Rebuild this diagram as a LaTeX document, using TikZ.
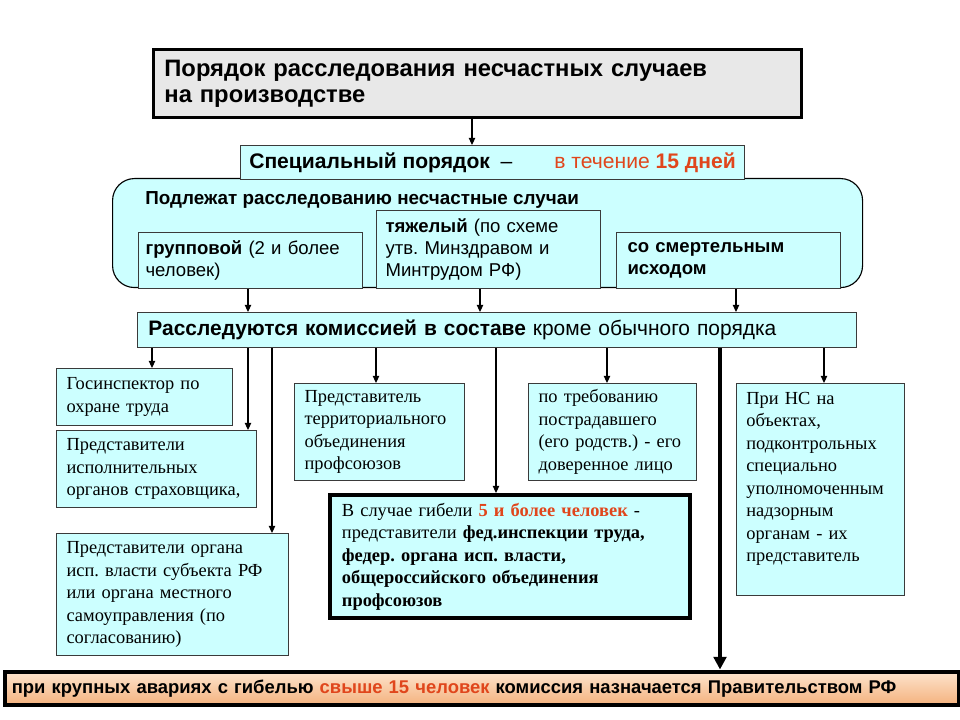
\documentclass[tikz,border=0pt]{standalone}
\usepackage{fontspec}
\setmainfont{Liberation Serif}
\setsansfont{Liberation Sans}
\usepackage{tikz}
\usetikzlibrary{arrows.meta,positioning,calc}
\definecolor{paleCyan}{HTML}{CCFFFF}
\definecolor{boxline}{HTML}{3A3A3A}
\definecolor{titlegray}{HTML}{E8E8E8}
\definecolor{alarm}{HTML}{E0461C}
\definecolor{barTop}{HTML}{FDE3CC}
\definecolor{barBot}{HTML}{F4B27E}
\newcommand{\pu}{0.025cm}
\frenchspacing

\begin{document}
\begin{tikzpicture}[x=\pu,y=-\pu,>={Triangle[width=4.5pt,length=5pt]},
  cbox/.style={draw=boxline,fill=paleCyan,line width=.8pt,anchor=north west,inner sep=0pt,align=left},
  sz/.style 2 args={minimum width=#1*\pu,minimum height=#2*\pu},
  arial/.style={font=\sffamily\fontsize{13.2}{15.6}\selectfont},
  times/.style={font=\rmfamily\fontsize{13.1}{16}\selectfont},
  link/.style={->,line width=.8pt}]
\useasboundingbox (0,0) rectangle (960,720);
% header and the special order
\node[draw=black,fill=titlegray,line width=2.1pt,anchor=north west,inner sep=0pt,sz={648}{68},
  text width=15.65cm,align=left,font=\sffamily\bfseries\fontsize{16.9}{18.5}\selectfont]
  (title) at (152,48) {Порядок расследования несчастных случаев\\на производстве};
\node[draw=black,fill=paleCyan,line width=.8pt,rounded corners=15.6pt,anchor=north west,sz={750}{109}]
  (podl) at (112,178) {};
\node[cbox,sz={504}{34},align=center,font=\sffamily\fontsize{15}{17}\selectfont]
  (special) at (240,145) {\textbf{Специальный порядок}\enspace–\qquad{\color{alarm}в течение \textbf{15 дней}}};
\node[anchor=west,inner sep=0pt,font=\sffamily\bfseries\fontsize{13.4}{15}\selectfont]
  (podlhead) at (145,200) {Подлежат расследованию несчастные случаи};
\node[cbox,arial,sz={224}{56},text width=5.25cm] (grp) at (138,232) {\textbf{групповой} (2 и более\\человек)};
\node[cbox,arial,sz={224}{78},text width=5.15cm] (tyazh) at (376,210) {\textbf{тяжелый} (по схеме\\утв. Минздравом и\\Минтрудом РФ)};
\node[cbox,arial,sz={224}{56},text width=5.05cm,font=\sffamily\bfseries\fontsize{13.2}{15.6}\selectfont]
  (smert) at (616,232) {со смертельным\\исходом};
\node[cbox,sz={719}{35},text width=17.425cm,font=\sffamily\fontsize{14.9}{17}\selectfont]
  (rassl) at (137,312) {\textbf{Расследуются комиссией в составе} кроме обычного порядка};
% commission members
\node[cbox,times,sz={176}{57},text width=3.9cm] (gos) at (56,368) {Госинспектор по\\охране труда};
\node[cbox,times,sz={200}{77},text width=4.5cm] (strah) at (56,430) {Представители\\исполнительных\\органов страховщика,};
\node[cbox,times,sz={232}{122},text width=5.3cm] (subj) at (56,533)
  {Представители органа\\исп. власти субъекта РФ\\или органа местного\\самоуправления (по\\согласованию)};
\node[cbox,times,sz={170}{97},text width=3.75cm] (terr) at (294,383) {Представитель\\территориального\\объединения\\профсоюзов};
\node[cbox,times,sz={168}{97},text width=3.7cm] (treb) at (528,383) {по требованию\\пострадавшего\\(его родств.) - его\\доверенное лицо};
\node[cbox,times,sz={360}{123},text width=8.4cm,draw=black,line width=2.8pt] (gib) at (328,493)
  {В случае гибели \textbf{\color{alarm}5 и более человек} -\\представители \textbf{фед.инспекции труда,}\\
   \textbf{федер. органа исп. власти,}\\\textbf{общероссийского объединения}\\\textbf{профсоюзов}};
\node[cbox,sz={168}{212}] (ns) at (736,383) {};
\node[times,anchor=north west,inner sep=0pt,text width=3.7cm,align=left] (nstext) at ($(ns.north west)+(10,9)$)
  {При НС на\\объектах,\\подконтрольных\\специально\\уполномоченным\\надзорным\\органам - их\\представитель};
\node[draw=black,line width=3.5pt,top color=barTop,bottom color=barBot,anchor=north west,inner sep=0pt,
  sz={954}{33},text width=23.5cm,align=left,font=\sffamily\bfseries\fontsize{13.1}{15}\selectfont]
  (bar) at (2.5,669.5) {при крупных авариях с гибелью {\color{alarm}свыше 15 человек} комиссия назначается Правительством РФ};
% connectors
\draw[link] (472,0 |- title.south) -- (472,0 |- special.north);
\draw[link] (248,0 |- grp.south) -- (248,0 |- rassl.north);
\draw[link] (480,0 |- tyazh.south) -- (480,0 |- rassl.north);
\draw[link] (736,0 |- smert.south) -- (736,0 |- rassl.north);
\draw[link] (152,0 |- rassl.south) -- (152,0 |- gos.north);
\draw[link] (248,0 |- rassl.south) -- (248,0 |- strah.north);
\draw[link] (272,0 |- rassl.south) -- (272,0 |- subj.north);
\draw[link] (376,0 |- rassl.south) -- (376,0 |- terr.north);
\draw[link] (496,0 |- rassl.south) -- (496,0 |- gib.north);
\draw[link] (607,0 |- rassl.south) -- (607,0 |- treb.north);
\draw[link] (824,0 |- rassl.south) -- (824,0 |- ns.north);
\draw[-{Triangle[width=9pt,length=9pt]},line width=2.8pt] (720,0 |- rassl.south) -- (720,0 |- bar.north);
\end{tikzpicture}
\end{document}
